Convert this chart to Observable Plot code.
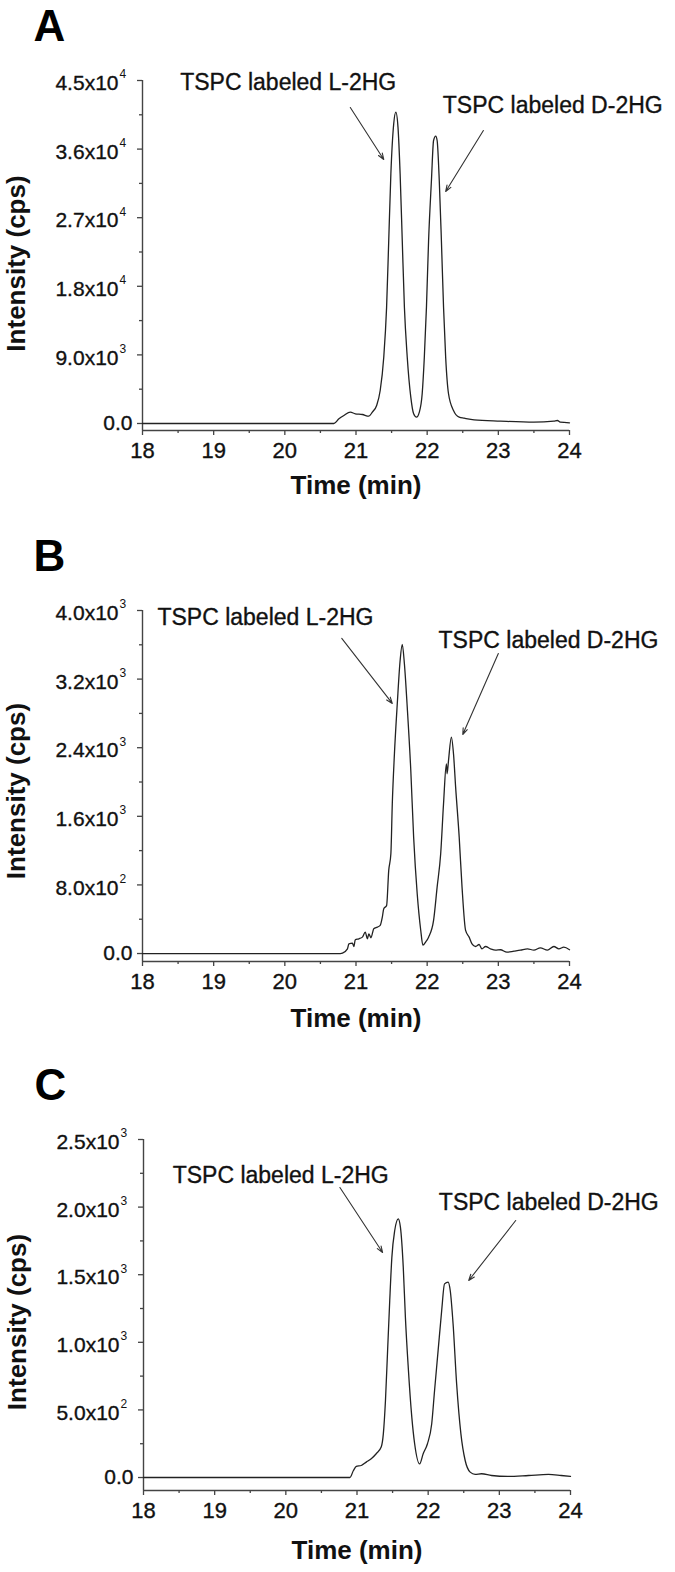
<!DOCTYPE html>
<html>
<head>
<meta charset="utf-8">
<script src="https://cdn.jsdelivr.net/npm/d3@7"></script>
<script src="https://cdn.jsdelivr.net/npm/@observablehq/plot@0.6"></script>
<style>
  body { margin: 0; background: #fff; }
  #root { position: relative; width: 675px; height: 1572px; overflow: hidden; background: #fff; }
  .panel { position: absolute; left: 0; }
</style>
</head>
<body>
<div id="root"></div>
<script>
// ---------- Data ----------
const xTicks = [18, 19, 20, 21, 22, 23, 24];
const xTickLabels = ["18", "19", "20", "21", "22", "23", "24"];
const xMinorTicks = [18.5, 19.5, 20.5, 21.5, 22.5, 23.5];
const peakLabels = ["TSPC labeled L-2HG", "TSPC labeled D-2HG"];

// Panel A
const timeA = [18, 20.69, 20.76, 20.83, 20.92, 20.99, 21.09, 21.18, 21.23, 21.29, 21.34, 21.39, 21.43, 21.46, 21.49, 21.53, 21.56, 21.59, 21.62, 21.65, 21.68, 21.72, 21.77, 21.81, 21.85, 21.89, 21.93, 21.96, 21.99, 22.02, 22.06, 22.09, 22.12, 22.14, 22.17, 22.20, 22.23, 22.26, 22.30, 22.37, 22.45, 22.52, 22.66, 23.03, 23.50, 23.78, 23.83, 23.87, 24.0];
const intensityA = [0, 0, 610, 1050, 1490, 1270, 1180, 960, 1490, 2370, 4330, 8700, 15270, 24010, 32760, 39320, 40850, 38880, 32760, 24010, 15270, 8700, 3460, 1270, 830, 1490, 3900, 8700, 15270, 24010, 31880, 37130, 37700, 37130, 31880, 24010, 15270, 8700, 3900, 1710, 830, 700, 480, 310, 170, 310, 390, 170, 90];
const yTicksA = [0, 9000, 18000, 27000, 36000, 45000];
const yMinorA = [4500, 13500, 22500, 31500, 40500];
const yTickMantissaA = ["0.0", "9.0x10", "1.8x10", "2.7x10", "3.6x10", "4.5x10"];
const yTickExpA = ["", "3", "4", "4", "4", "4"];
const annXA = [18.53, 22.22], annYA = [44740, 41720];
const arrowX1A = [20.92, 22.79], arrowY1A = [41460, 38440], arrowX2A = [21.39, 22.26], arrowY2A = [34640, 30440];

// Panel B
const timeB = [18, 20.78, 20.81, 20.88, 20.90, 20.95, 20.97, 20.99, 21.04, 21.09, 21.13, 21.16, 21.18, 21.21, 21.25, 21.30, 21.34, 21.37, 21.39, 21.43, 21.46, 21.49, 21.51, 21.54, 21.58, 21.62, 21.65, 21.68, 21.72, 21.77, 21.81, 21.86, 21.91, 21.94, 21.98, 22.02, 22.09, 22.14, 22.19, 22.23, 22.27, 22.28, 22.30, 22.34, 22.37, 22.40, 22.45, 22.49, 22.54, 22.59, 22.63, 22.68, 22.73, 22.77, 22.82, 22.89, 22.96, 23.03, 23.12, 23.22, 23.31, 23.41, 23.50, 23.59, 23.69, 23.78, 23.85, 23.92, 24.0];
const intensityB = [0, 0, 5, 55, 113, 121, 82, 160, 172, 191, 250, 172, 230, 184, 289, 308, 328, 425, 522, 560, 969, 1163, 1746, 2329, 2912, 3417, 3604, 3379, 2873, 2135, 1357, 697, 269, 97, 136, 191, 386, 774, 1163, 1746, 2212, 2096, 2251, 2524, 2329, 1940, 1357, 774, 269, 191, 113, 82, 105, 55, 82, 55, 39, 44, 16, 28, 39, 55, 39, 66, 39, 82, 55, 74, 44];
const yTicksB = [0, 800, 1600, 2400, 3200, 4000];
const yMinorB = [400, 1200, 2000, 2800, 3600];
const yTickMantissaB = ["0.0", "8.0x10", "1.6x10", "2.4x10", "3.2x10", "4.0x10"];
const yTickExpB = ["", "2", "3", "3", "3", "3"];
const annXB = [18.21, 22.16], annYB = [3918, 3650];
const arrowX1B = [20.80, 23.00], arrowY1B = [3674, 3499], arrowX2B = [21.51, 22.50], arrowY2B = [2916, 2554];

// Panel C
const timeC = [18, 20.90, 20.95, 20.99, 21.06, 21.13, 21.20, 21.27, 21.34, 21.37, 21.40, 21.43, 21.46, 21.49, 21.53, 21.58, 21.61, 21.65, 21.68, 21.72, 21.77, 21.81, 21.88, 21.93, 21.99, 22.05, 22.09, 22.14, 22.19, 22.23, 22.28, 22.31, 22.35, 22.40, 22.46, 22.52, 22.59, 22.66, 22.75, 22.89, 23.12, 23.41, 23.69, 23.87, 24.0];
const intensityC = [0, 0, 52, 82, 89, 114, 139, 176, 225, 323, 570, 940, 1309, 1630, 1827, 1913, 1852, 1556, 1186, 816, 447, 250, 101, 176, 250, 398, 644, 940, 1235, 1432, 1445, 1383, 1137, 693, 323, 126, 40, 23, 28, 15, 8, 15, 23, 15, 8];
const yTicksC = [0, 500, 1000, 1500, 2000, 2500];
const yMinorC = [250, 750, 1250, 1750, 2250];
const yTickMantissaC = ["0.0", "5.0x10", "1.0x10", "1.5x10", "2.0x10", "2.5x10"];
const yTickExpC = ["", "2", "3", "3", "3", "3"];
const annXC = [18.41, 22.15], annYC = [2234, 2034];
const arrowX1C = [20.76, 23.23], arrowY1C = [2145, 1901], arrowX2C = [21.36, 22.57], arrowY2C = [1664, 1457];

// ---------- Layout ----------
const FONT = "'Liberation Sans', Arial, Helvetica, sans-serif";
const AXIS = "#444";
const INK = "#111";

const panels = [
  {letter: "A", top: 0, height: 500, mt: 80, mb: 70, ml: 142, mr: 106, yDomain: [-920, 45000],
   time: timeA, intensity: intensityA, yTicks: yTicksA, yMinor: yMinorA, mant: yTickMantissaA, exp: yTickExpA,
   annX: annXA, annY: annYA, ax1: arrowX1A, ay1: arrowY1A, ax2: arrowX2A, ay2: arrowY2A, xTitleDy: 45, yTitleDy: 8},
  {letter: "B", top: 520, height: 530, mt: 90, mb: 89, ml: 142, mr: 106, yDomain: [-93, 4000],
   time: timeB, intensity: intensityB, yTicks: yTicksB, yMinor: yMinorB, mant: yTickMantissaB, exp: yTickExpB,
   annX: annXB, annY: annYB, ax1: arrowX1B, ay1: arrowY1B, ax2: arrowX2B, ay2: arrowY2B, xTitleDy: 47, yTitleDy: 5},
  {letter: "C", top: 1050, height: 522, mt: 89, mb: 82, ml: 143, mr: 105, yDomain: [-96, 2500],
   time: timeC, intensity: intensityC, yTicks: yTicksC, yMinor: yMinorC, mant: yTickMantissaC, exp: yTickExpC,
   annX: annXC, annY: annYC, ax1: arrowX1C, ay1: arrowY1C, ax2: arrowX2C, ay2: arrowY2C, xTitleDy: 50, yTitleDy: 7}
];

function makePanel(c) {
  const series = c.time.map((t, i) => ({t, v: c.intensity[i]}));
  const ticks = c.yTicks.map((v, i) => ({v, m: c.mant[i], e: c.exp[i]}));
  const ann = peakLabels.map((s, i) => ({s, x: c.annX[i], y: c.annY[i]}));
  const arrows = c.ax1.map((x1, i) => ({x1, y1: c.ay1[i], x2: c.ax2[i], y2: c.ay2[i]}));
  const textStroke = {stroke: INK, strokeWidth: 0.35};
  return Plot.plot({
    width: 675,
    height: c.height,
    marginTop: c.mt, marginBottom: c.mb, marginLeft: c.ml, marginRight: c.mr,
    x: {domain: [18, 24]},
    y: {domain: c.yDomain},
    style: {fontFamily: FONT, background: "#fff", overflow: "visible", color: INK},
    marks: [
      Plot.ruleX([18], {stroke: AXIS, strokeWidth: 1.4}),
      Plot.ruleY([c.yDomain[0]], {stroke: AXIS, strokeWidth: 1.4}),
      Plot.axisX({ticks: xTicks, tickSize: 5, tickFormat: () => "", stroke: AXIS, strokeWidth: 1.3, label: null}),
      Plot.axisX({ticks: xMinorTicks, tickSize: 3, tickFormat: () => "", stroke: AXIS, strokeWidth: 1.3, label: null}),
      Plot.axisY({ticks: c.yTicks, tickSize: 5, tickFormat: () => "", stroke: AXIS, strokeWidth: 1.3, label: null}),
      Plot.axisY({ticks: c.yMinor, tickSize: 3, tickFormat: () => "", stroke: AXIS, strokeWidth: 1.3, label: null}),
      // x tick labels
      Plot.text(xTicks, {x: d => d, text: (d, i) => xTickLabels[i], frameAnchor: "bottom", textAnchor: "middle", lineAnchor: "top", dy: 12, fontSize: 22, fill: INK, ...textStroke}),
      // y tick labels with superscript exponents
      Plot.text(ticks, {filter: d => d.e === "", y: "v", text: "m", frameAnchor: "left", textAnchor: "end", dx: -10, fontSize: 21, fill: INK, ...textStroke}),
      Plot.text(ticks, {filter: d => d.e !== "", y: "v", text: "m", frameAnchor: "left", textAnchor: "end", dx: -24, dy: 3, fontSize: 21, fill: INK, ...textStroke}),
      Plot.text(ticks, {filter: d => d.e !== "", y: "v", text: "e", frameAnchor: "left", textAnchor: "start", dx: -23, dy: -6, fontSize: 12, fill: INK}),
      // axis titles
      Plot.text(["Intensity (cps)"], {text: d => d, frameAnchor: "left", textAnchor: "middle", dx: -126, dy: c.yTitleDy, rotate: -90, fontSize: 26, fontWeight: "bold", fill: INK}),
      Plot.text(["Time (min)"], {text: d => d, frameAnchor: "bottom", textAnchor: "middle", dy: c.xTitleDy, lineAnchor: "top", fontSize: 26, fontWeight: "bold", fill: INK}),
      // panel letter
      Plot.text([c.letter], {text: d => d, frameAnchor: "top-left", textAnchor: "start", lineAnchor: "middle", dx: -109, dy: -54, fontSize: 44, fontWeight: "bold", fill: "#000"}),
      // chromatogram
      Plot.line(series, {x: "t", y: "v", stroke: "#222", strokeWidth: 1.3, curve: "monotone-x"}),
      // annotations
      Plot.arrow(arrows, {x1: "x1", y1: "y1", x2: "x2", y2: "y2", stroke: "#333", strokeWidth: 1.1, headLength: 9, headAngle: 40}),
      Plot.text(ann, {x: "x", y: "y", text: "s", textAnchor: "start", fontSize: 23, fill: INK, ...textStroke})
    ]
  });
}

const root = document.getElementById("root");
for (const c of panels) {
  const wrap = document.createElement("div");
  wrap.className = "panel";
  wrap.style.top = c.top + "px";
  wrap.appendChild(makePanel(c));
  root.appendChild(wrap);
}
</script>
</body>
</html>
